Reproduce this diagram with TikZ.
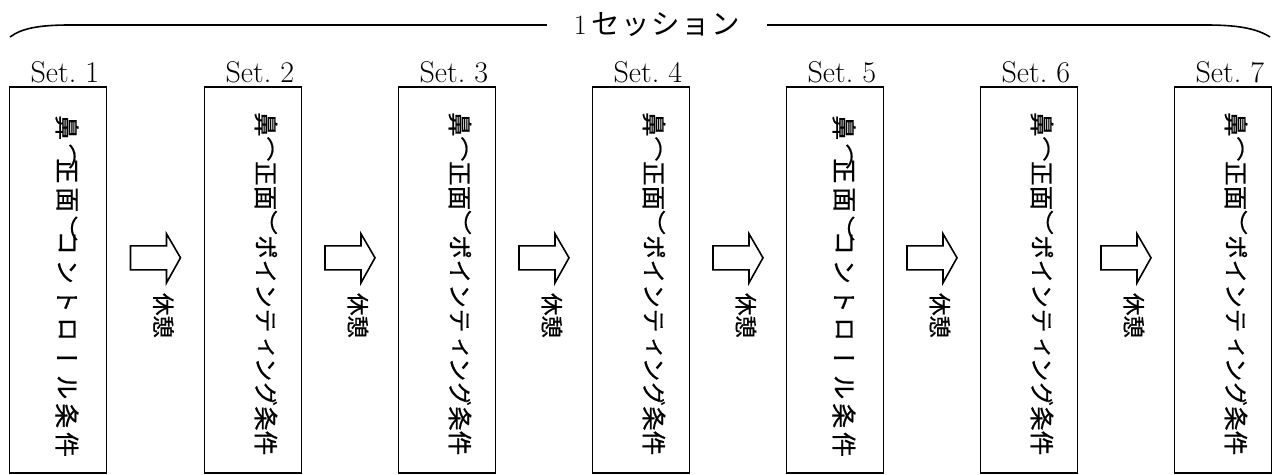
\documentclass[tikz,border=0pt]{standalone}
\usepackage{fontspec}
\usetikzlibrary{calc}
\newfontfamily\jp{Noto Sans CJK JP}
\newfontfamily\tate{Noto Sans CJK JP}[Vertical={RotatedGlyphs,HalfMetrics},FakeBold=0.6]
\def\tg{\hskip 1.5pt\relax}
\tikzset{
  setbox/.style={draw, line width=1.6pt, minimum width=97pt, minimum height=386pt, anchor=north, inner sep=0pt},
  setlabel/.style={anchor=base east, inner sep=0pt, font=\fontsize{30}{32}\selectfont},
  vtext/.style={rotate=-90, anchor=west, inner sep=0pt, font=\tate\fontsize{24.5}{26}\selectfont},
  vchar/.style={rotate=-90, anchor=west, inner sep=0pt, font=\tate\fontsize{25}{26}\selectfont},
  restlabel/.style={rotate=-90, anchor=west, inner sep=0pt, font=\tate\fontsize{22.5}{23}\selectfont},
  rest arrow/.pic={\draw[line width=1.6pt, line join=miter]
     (-25,-12) -- (11,-12) -- (11,-24) -- (25,0) -- (11,25) -- (11,12) -- (-25,12) -- cycle;},
  brace/.style={line width=1.6pt}
}
\begin{document}
\begin{tikzpicture}[x=1pt,y=-1pt]
\useasboundingbox (0,0) rectangle (1276,474);
% title and brace
\node[inner xsep=27pt, inner ysep=0pt, font=\fontsize{28}{30}\selectfont] (title) at (657,25) {\raisebox{3pt}{1\,\jp\fontsize{28.5}{30}\selectfont セ\tg ッ\tg シ\tg ョ\tg ン}};
\draw[brace] (10,37) .. controls (22,28) and (40,25) .. (70,25) -- (title.west);
\draw[brace] (title.east) -- (1206,25) .. controls (1236,25) and (1256,28) .. (1270,37);
% boxes
\foreach \i/\x in {1/58,2/253,3/447,4/641,5/835,6/1029,7/1223}{
  \node[setbox] (b\i) at (\x,86) {};
  \node[setlabel] (l\i) at ($(b\i.north east)+(-8,-4)$) {Set.~\i};
}
% control condition: characters spaced out over the box
\foreach \i in {1,5}{
  \foreach \c/\p [count=\k] in {鼻/0,（/1,正/1.5,面/2.5,）/3.5,コ/4,ン/5,ト/6,ロ/7,ー/8,ル/9,条/10,件/11}{
    \node[vchar] (t\i-\k) at ($(b\i.north)+(9,29)+(0,28.8*\p)$) {\c};
  }
}
\foreach \i in {2,3,4,6,7}{
  \node[vtext] (t\i) at ($(b\i.north)+(13,26)$) {鼻（正面）ポインティング条件};
}
% arrows
\foreach \i [evaluate=\i as \j using int(\i+1)] in {1,...,6}{
  \coordinate (m\i) at ($(b\i.east)!.5!(b\j.west)$);
  \pic at ($(m\i)+(0,-22)$) {rest arrow};
  \node[restlabel] (r\i) at ($(m\i)+(8,13)$) {休憩};
}
\end{tikzpicture}
\end{document}
